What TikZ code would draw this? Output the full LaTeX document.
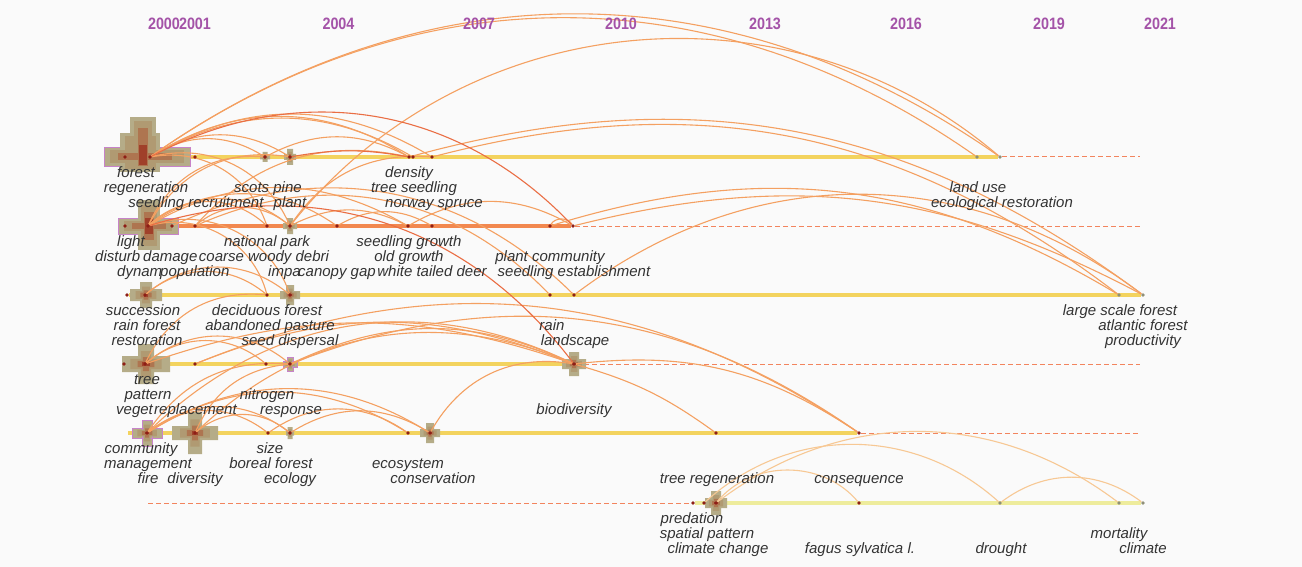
\documentclass[tikz,border=0pt]{standalone}
\usepackage{fontspec}
\setmainfont{Liberation Sans}
\usepackage{tikz}

\definecolor{bgc}{HTML}{FAFAFA}
\definecolor{txtc}{HTML}{333333}
\definecolor{yearc}{HTML}{A453A8}
\definecolor{liney}{HTML}{F3D35E}
\definecolor{lineo}{HTML}{F2884F}
\definecolor{linep}{HTML}{EEEC9C}
\definecolor{dashc}{HTML}{F2845E}
\definecolor{arco}{HTML}{F4A061}
\definecolor{arcr}{HTML}{EA6E44}
\definecolor{arcl}{HTML}{F7C894}
\definecolor{dotc}{HTML}{8E1E16}
\definecolor{dotg}{HTML}{8F8F78}
\definecolor{khaki}{HTML}{B5AC88}
\definecolor{crossmid}{HTML}{B09A72}
\definecolor{crossin}{HTML}{AE7550}
\definecolor{crosscore}{HTML}{A0402A}
\definecolor{burst}{HTML}{C783C9}

\pgfdeclarelayer{bg}
\pgfdeclarelayer{mid}
\pgfsetlayers{bg,mid,main}

% x, y, half length (horizontal), half length (vertical), half width
\newcommand{\kwcross}[6][]{%
  \fill[khaki,#1] (#2-#4,#3-#6) rectangle (#2+#4,#3+#6) (#2-#6,#3-#5) rectangle (#2+#6,#3+#5);
  \fill[crossmid] (#2-0.65*#4,#3-0.65*#6) rectangle (#2+0.65*#4,#3+0.65*#6) (#2-0.65*#6,#3-0.65*#5) rectangle (#2+0.65*#6,#3+0.65*#5);
  \fill[crossin] (#2-0.35*#4,#3-0.4*#6) rectangle (#2+0.35*#4,#3+0.4*#6) (#2-0.4*#6,#3-0.35*#5) rectangle (#2+0.4*#6,#3+0.35*#5);
  \fill[crosscore] (#2-0.15*#4,#3-0.25*#6) rectangle (#2+0.15*#4,#3+0.25*#6);}

\begin{document}
\begin{tikzpicture}[x=1pt,y=1pt,
    kw/.style={font=\fontsize{15}{15}\selectfont\itshape,text=txtc,inner sep=0pt,
               text height=10.5pt,text depth=3pt,yshift=-1.5pt},
    yr/.style={font=\fontsize{16.5}{17}\selectfont\bfseries,text=yearc,inner sep=0pt},
    dot/.style={circle,fill=dotc,inner sep=0pt,minimum size=3.6pt},
    gdot/.style={dot,fill=dotg},
    tl/.style={line width=3.6pt},
    dl/.style={draw=dashc,line width=1pt,dash pattern=on 5pt off 3pt},
    lk/.style={draw=arco,line width=1.1pt},
    rd/.style={draw=arcr},
    lt/.style={draw=arcl}]

  \tikzstyle{kwl}=[kw,anchor=west]

  \useasboundingbox (0,0) rectangle (1302,-567);

  \node[yr] (Y2000) at (164,-24)   {\scalebox{0.87}[1]{2000}};
  \node[yr] (Y2001) at (195,-24)   {\scalebox{0.87}[1]{2001}};
  \node[yr] (Y2004) at (338.5,-24) {\scalebox{0.87}[1]{2004}};
  \node[yr] (Y2007) at (479,-24)   {\scalebox{0.87}[1]{2007}};
  \node[yr] (Y2010) at (621,-24)   {\scalebox{0.87}[1]{2010}};
  \node[yr] (Y2013) at (765,-24)   {\scalebox{0.87}[1]{2013}};
  \node[yr] (Y2016) at (906,-24)   {\scalebox{0.87}[1]{2016}};
  \node[yr] (Y2019) at (1049,-24)  {\scalebox{0.87}[1]{2019}};
  \node[yr] (Y2021) at (1160,-24)  {\scalebox{0.87}[1]{2021}};

  \node[dot] (N1X) at (125,-157) {};
  \node[dot] (N1A) at (150,-157) {};
  \node[dot] (N1B) at (195,-157) {};
  \node[dot] (N1C) at (265,-157) {};
  \node[dot] (N1D) at (290,-157) {};
  \node[dot] (N1E) at (409,-157) {};
  \node[dot] (N1F) at (413,-157) {};
  \node[dot] (N1G) at (432,-157) {};
  \node[gdot] (N1H) at (977,-157) {};
  \node[gdot] (N1I) at (1000,-157) {};

  \node[dot] (N2X) at (125,-226) {};
  \node[dot] (N2A) at (148,-226) {};
  \node[dot] (N2B) at (172,-226) {};
  \node[dot] (N2C) at (195,-226) {};
  \node[dot] (N2D) at (267,-226) {};
  \node[dot] (N2E) at (290,-226) {};
  \node[dot] (N2F) at (337,-226) {};
  \node[dot] (N2G) at (408,-226) {};
  \node[dot] (N2H) at (432,-226) {};
  \node[dot] (N2I) at (550,-226) {};
  \node[dot] (N2J) at (573,-226) {};

  \node[dot] (N3X) at (127,-295) {};
  \node[dot] (N3A) at (145,-295) {};
  \node[dot] (N3B) at (267,-295) {};
  \node[dot] (N3C) at (290,-295) {};
  \node[dot] (N3D) at (550,-295) {};
  \node[dot] (N3E) at (574,-295) {};
  \node[gdot] (N3F) at (1119,-295) {};
  \node[gdot] (N3G) at (1143,-295) {};

  \node[dot] (N4X) at (124,-364) {};
  \node[dot] (N4A) at (145,-364) {};
  \node[dot] (N4B) at (195,-364) {};
  \node[dot] (N4C) at (266,-364) {};
  \node[dot] (N4D) at (290,-364) {};
  \node[dot] (N4E) at (574,-364) {};

  \node[dot] (N5A) at (147,-433) {};
  \node[dot] (N5B) at (195,-433) {};
  \node[dot] (N5C) at (268,-433) {};
  \node[dot] (N5D) at (290,-433) {};
  \node[dot] (N5E) at (408,-433) {};
  \node[dot] (N5F) at (430,-433) {};
  \node[dot] (N5G) at (716,-433) {};
  \node[dot] (N5H) at (859,-433) {};

  \node[dot] (N6A) at (693,-503) {};
  \node[dot] (N6B) at (704,-503) {};
  \node[dot] (N6C) at (716,-503) {};
  \node[dot] (N6D) at (859,-503) {};
  \node[gdot] (N6E) at (1000,-503) {};
  \node[gdot] (N6F) at (1119,-503) {};
  \node[gdot] (N6G) at (1143,-503) {};

  \node[kw] (FOR) at (136,-172)  {forest};
  \node[kw] (REG) at (146,-187)  {regeneration};
  \node[kw] (SRE) at (196,-202)  {seedling recruitment};
  \node[kw] (SCP) at (268,-187)  {scots pine};
  \node[kw] (PLA) at (290,-202)  {plant};
  \node[kw] (DEN) at (409,-172)  {density};
  \node[kw] (TSE) at (414,-187)  {tree seedling};
  \node[kw] (NSP) at (434,-202)  {norway spruce};
  \node[kw] (LUS) at (978,-187)  {land use};
  \node[kw] (ERE) at (1002,-202) {ecological restoration};

  \node[kw] (LIG) at (131,-241)  {light};
  \node[kwl] (DIS) at (95,-256)  {disturb};
  \node[kwl] (DAM) at (143,-256) {damage};
  \node[kw] (CWD) at (264,-256)  {coarse woody debri};
  \node[kwl] (DYN) at (117,-271) {dynam};
  \node[kwl] (POP) at (160,-271) {population};
  \node[kw] (NPA) at (267,-241)  {national park};
  \node[kwl] (IMP) at (268,-271) {impa};
  \node[kwl] (CGA) at (298,-271) {canopy gap};
  \node[kw] (SGR) at (409,-241)  {seedling growth};
  \node[kw] (OGR) at (409,-256)  {old growth};
  \node[kw] (WTD) at (432,-271)  {white tailed deer};
  \node[kw] (PCO) at (550,-256)  {plant community};
  \node[kw] (SES) at (574,-271)  {seedling establishment};

  \node[kw] (SUC) at (143,-310)  {succession};
  \node[kw] (RFO) at (147,-325)  {rain forest};
  \node[kw] (RES) at (147,-340)  {restoration};
  \node[kw] (DFO) at (267,-310)  {deciduous forest};
  \node[kw] (APA) at (270,-325)  {abandoned pasture};
  \node[kw] (SDI) at (290,-340)  {seed dispersal};
  \node[kw] (RAI) at (552,-325)  {rain};
  \node[kw] (LAN) at (575,-340)  {landscape};
  \node[kw] (LSF) at (1120,-310) {large scale forest};
  \node[kw] (AFO) at (1143,-325) {atlantic forest};
  \node[kw] (PRO) at (1143,-340) {productivity};

  \node[kw] (TRE) at (147,-379)   {tree};
  \node[kw] (PAT) at (148,-394)   {pattern};
  \node[kwl] (VEG) at (116,-409)  {veget};
  \node[kwl] (RPL) at (154,-409)  {replacement};
  \node[kw] (NIT) at (267,-394)   {nitrogen};
  \node[kw] (RSP) at (291,-409)   {response};
  \node[kw] (BIO) at (574,-409)   {biodiversity};

  \node[kw] (COM) at (141,-448) {community};
  \node[kw] (MAN) at (148,-463) {management};
  \node[kw] (FIR) at (148,-478) {fire};
  \node[kw] (DIV) at (195,-478) {diversity};
  \node[kw] (SIZ) at (270,-448) {size};
  \node[kw] (BFO) at (271,-463) {boreal forest};
  \node[kw] (ECL) at (290,-478) {ecology};
  \node[kw] (ECS) at (408,-463) {ecosystem};
  \node[kw] (CON) at (433,-478) {conservation};
  \node[kw] (TRG) at (717,-478) {tree regeneration};
  \node[kw] (CSQ) at (859,-478) {consequence};

  \node[kw] (PRE) at (692,-518)  {predation};
  \node[kw] (SPP) at (707,-533)  {spatial pattern};
  \node[kw] (CCH) at (718,-548)  {climate change};
  \node[kw] (FSY) at (860,-548)  {fagus sylvatica l.};
  \node[kw] (DRO) at (1001,-548) {drought};
  \node[kw] (MOR) at (1119,-533) {mortality};
  \node[kw] (CLI) at (1143,-548) {climate};

  \begin{pgfonlayer}{mid}
  \path[lk]
  (N1A) edge [bend left=35] (N1H)
  (N1A) edge [bend left=35] (N1I)
  (N2E) edge [bend left=46] (N1I)
  (N1A) edge [bend left=32] (N1C)
  (N1A) edge [bend left=32] (N1D)
  (N1A) edge [bend left=32] (N1E)
  (N1A) edge [bend left=30] (N1F)
  (N1A) edge [bend left=31] (N1G)
  (N1C) edge [bend left=28] (N1E)
  (N1G) edge [bend left=26] (N3F)
  (N1E) edge [bend left=26] (N3G)
  (N2I) edge [bend left=24] (N3F)
  (N2J) edge [bend left=21] (N3G)
  (N2E) edge [bend left=30] (N1G)
  (N2C) edge [bend left=30] (N1E)
  (N2A) edge [bend left=35] (N1C)
  (N2A) edge [bend left=35] (N1D)
  (N1A) edge [bend left=40] (N2D)
  (N1A) edge [bend left=40] (N2E)

  (N2A) edge [bend left=43] (N2D)
  (N2A) edge [bend left=40] (N2E)
  (N2A) edge [bend left=35] (N2F)
  (N2A) edge [bend left=30] (N2G)
  (N2C) edge [bend left=40] (N2E)
  (N2E) edge [bend left=27] (N2G)
  (N2F) edge [bend left=30] (N2H)
  (N2G) edge [bend left=30] (N2J)
  (N2I) edge [bend left=60] (N2J)
  (N2A) edge [bend left=45] (N3B)
  (N2A) edge [bend left=45] (N3C)
  (N2C) edge [bend left=35] (N3D)
  (N2B) edge [bend left=35] (N3E)

  (N3A) edge [bend left=40] (N3B)
  (N3A) edge [bend left=40] (N3C)
  (N3E) edge [bend left=37] (N3G)
  (N4A) edge [bend left=35] (N3B)

  (N4A) edge [bend left=40] (N4C)
  (N4A) edge [bend left=40] (N4D)
  (N4A) edge [bend left=19] (N4E)
  (N4B) edge [bend left=22] (N4E)
  (N4D) edge [bend left=25] (N4E)
  (N5A) edge [bend left=35] (N4E)
  (N5B) edge [bend left=33] (N4E)
  (N5F) edge [bend left=35] (N4E)
  (N4D) edge [bend left=28] (N5H)
  (N4B) edge [bend left=28] (N5H)
  (N4E) edge [bend left=10] (N5G)
  (N4E) edge [bend left=20] (N5H)

  (N5A) edge [bend left=38] (N5C)
  (N5A) edge [bend left=38] (N5D)
  (N5A) edge [bend left=32] (N5E)
  (N5A) edge [bend left=32] (N5F)
  (N5B) edge [bend left=40] (N5D)
  (N5D) edge [bend left=32] (N5F)
  (N5C) edge [bend left=35] (N5E)
  (N5B) edge [bend left=30] (N4D)
  (N5A) edge [bend left=30] (N4D)

  (N1A) edge [rd,bend left=37] (N2J)
  (N1D) edge [rd,bend left=10] (N1E)
  (N2A) edge [rd,bend left=35] (N4E)

  (N6C) edge [lt,bend left=50] (N6D)
  (N6B) edge [lt,bend left=42] (N6E)
  (N6C) edge [lt,bend left=37] (N6F)
  (N6E) edge [lt,bend left=37] (N6G)
  ;
  \end{pgfonlayer}

  \begin{pgfonlayer}{bg}
  \fill[bgc] (0,0) rectangle (1302,-567);

  \coordinate (E1) at (1140,-157);
  \coordinate (E2) at (1140,-226);
  \coordinate (E4) at (1140,-364);
  \coordinate (E5) at (1140,-433);
  \coordinate (N5X) at (128,-433);
  \coordinate (S6) at (148,-503);

  \draw[tl,liney] (N1A) -- (N1I);
  \draw[dl]       (N1I) -- (E1);
  \draw[tl,lineo] (N2A) -- (N2J);
  \draw[dl]       (N2J) -- (E2);
  \draw[tl,liney] (N3X) -- (N3G);
  \draw[tl,liney] (N4X) -- (N4E);
  \draw[dl]       (N4E) -- (E4);
  \draw[tl,liney] (N5X) -- (N5H);
  \draw[dl]       (N5H) -- (E5);
  \draw[dl]       (S6) -- (N6A);
  \draw[tl,linep] (N6A) -- (N6G);

  \fill[khaki,draw=burst,line width=0.8pt] (104,-147) rectangle (190,-166);
  \fill[khaki] (120,-133) rectangle (160,-172);
  \fill[khaki] (130,-117) rectangle (156,-172);
  \fill[crossmid] (110,-150) rectangle (184,-163);
  \fill[crossmid] (125,-136) rectangle (156,-169);
  \fill[crossmid] (134,-121) rectangle (152,-169);
  \fill[crossin] (138,-128) rectangle (148,-166);
  \fill[crossin] (118,-153) rectangle (172,-160);
  \fill[crosscore] (139,-145) rectangle (147,-165);

  \fill[khaki,draw=burst,line width=0.8pt] (118,-218) rectangle (178,-234);
  \fill[khaki] (138,-200) rectangle (160,-250);
  \fill[crossmid] (124,-221) rectangle (172,-231);
  \fill[crossmid] (141,-205) rectangle (157,-246);
  \fill[crossin] (144,-212) rectangle (154,-240);
  \fill[crossin] (132,-223) rectangle (166,-229);
  \fill[crosscore] (145,-218) rectangle (153,-234);

  \kwcross{146}{-295}{16}{13}{6}
  \kwcross{146}{-364}{24}{20}{8}
  \kwcross[draw=burst,line width=0.8pt]{147}{-433}{15}{13}{5}
  \kwcross{195}{-433}{23}{21}{7}
  \kwcross{265}{-157}{5}{5}{2.5}
  \kwcross{290}{-157}{6}{8}{3}
  \kwcross{290}{-226}{7}{8}{3}
  \kwcross{290}{-295}{10}{10}{4}
  \kwcross[draw=burst,line width=0.6pt]{290}{-364}{7}{7}{3}
  \kwcross{574}{-364}{12}{12}{5}
  \kwcross{290}{-433}{4}{6}{2.5}
  \kwcross{430}{-433}{10}{10}{4}
  \kwcross{716}{-503}{11}{12}{5}
  \end{pgfonlayer}
\end{tikzpicture}
\end{document}
